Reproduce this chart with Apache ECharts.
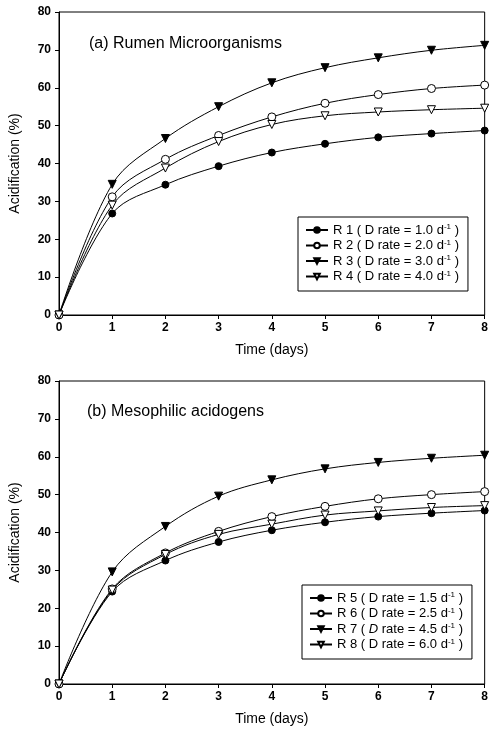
<!DOCTYPE html>
<html>
<head>
<meta charset="utf-8">
<script src="https://cdn.jsdelivr.net/npm/echarts@6/dist/echarts.min.js"></script>
<style>
  html, body { margin: 0; padding: 0; background: #fff; }
  #chart { width: 491px; height: 730px; }
</style>
</head>
<body>
<div id="chart"></div>
<script>
// time axis (days)
var days = [0, 1, 2, 3, 4, 5, 6, 7, 8];

// (a) Rumen Microorganisms
var r1 = [0, 26.8, 34.4, 39.3, 42.9, 45.2, 46.9, 47.9, 48.7];
var r2 = [0, 31.2, 41.1, 47.4, 52.3, 55.9, 58.2, 59.8, 60.7];
var r3 = [0, 34.5, 46.6, 55.0, 61.3, 65.3, 67.9, 69.9, 71.2];
var r4 = [0, 29.0, 38.8, 45.8, 50.3, 52.6, 53.6, 54.2, 54.6];
var ratesA = ['1.0', '2.0', '3.0', '4.0'];

// (b) Mesophilic acidogens
var r5 = [0, 24.4, 32.6, 37.5, 40.6, 42.7, 44.2, 45.1, 45.8];
var r6 = [0, 25.1, 34.6, 40.3, 44.2, 46.9, 48.9, 50.0, 50.8];
var r7 = [0, 29.6, 41.6, 49.6, 53.9, 56.8, 58.5, 59.6, 60.4];
var r8 = [0, 24.8, 34.2, 39.5, 42.2, 44.6, 45.7, 46.6, 47.1];
var ratesB = ['1.5', '2.5', '4.5', '6.0'];

var panelTitles = ['(a) Rumen Microorganisms', '(b) Mesophilic acidogens'];

var font = 'Liberation Sans, Arial, sans-serif';

function pairs(vals) {
  return days.map(function (d, i) { return [d, vals[i]]; });
}

// marker styles: filled circle, open circle, filled down triangle, open down triangle
var marks = [
  { symbol: 'circle', size: 7, fill: '#000', rotate: 0 },
  { symbol: 'circle', size: 8, fill: '#fff', rotate: 0 },
  { symbol: 'triangle', size: 8, fill: '#000', rotate: 180 },
  { symbol: 'triangle', size: 8, fill: '#fff', rotate: 180 }
];

function makeSeries(name, vals, k, panel) {
  var m = marks[k];
  return {
    name: name,
    type: 'line',
    xAxisIndex: panel,
    yAxisIndex: panel,
    data: pairs(vals),
    smooth: 0.35,
    symbol: m.symbol,
    symbolSize: m.size,
    symbolRotate: m.rotate,
    showAllSymbol: true,
    lineStyle: { color: '#000', width: 1 },
    itemStyle: { color: m.fill, borderColor: '#000', borderWidth: 1 },
    emphasis: { disabled: true },
    z: 3
  };
}

var namesA = ['R 1', 'R 2', 'R 3', 'R 4'];
var namesB = ['R 5', 'R 6', 'R 7', 'R 8'];
var rateOf = {};
namesA.forEach(function (n, i) { rateOf[n] = ratesA[i]; });
namesB.forEach(function (n, i) { rateOf[n] = ratesB[i]; });

var series = [
  makeSeries('R 1', r1, 0, 0),
  makeSeries('R 2', r2, 1, 0),
  makeSeries('R 3', r3, 2, 0),
  makeSeries('R 4', r4, 3, 0),
  makeSeries('R 5', r5, 0, 1),
  makeSeries('R 6', r6, 1, 1),
  makeSeries('R 7', r7, 2, 1),
  makeSeries('R 8', r8, 3, 1)
];

function xAxisFor(i) {
  return {
    type: 'value',
    gridIndex: i,
    min: 0,
    max: 8,
    interval: 1,
    name: 'Time (days)',
    nameLocation: 'middle',
    nameGap: 28,
    nameTextStyle: { color: '#000', fontSize: 14, fontFamily: font },
    axisLine: { lineStyle: { color: '#000', width: 1 } },
    axisTick: { length: 4, lineStyle: { color: '#000' } },
    axisLabel: { color: '#000', fontSize: 12, fontWeight: 'bold', fontFamily: font, margin: 7 },
    splitLine: { show: false }
  };
}

function yAxisFor(i) {
  return {
    type: 'value',
    gridIndex: i,
    min: 0,
    max: 80,
    interval: 10,
    name: 'Acidification (%)',
    nameLocation: 'middle',
    nameGap: 37,
    nameTextStyle: { color: '#000', fontSize: 14, fontFamily: font },
    axisLine: { show: true, lineStyle: { color: '#000', width: 1 } },
    axisTick: { length: 4, lineStyle: { color: '#000' } },
    axisLabel: { color: '#000', fontSize: 12, fontWeight: 'bold', fontFamily: font, margin: 8 },
    splitLine: { show: false }
  };
}

function legendFor(names, left, top) {
  return {
    data: names,
    orient: 'vertical',
    left: left,
    top: top,
    padding: [6, 9, 8, 7],
    itemGap: 2,
    itemWidth: 22,
    itemHeight: 7,
    selectedMode: false,
    borderColor: '#000',
    borderWidth: 1,
    backgroundColor: '#fff',
    textStyle: {
      color: '#000',
      fontSize: 13,
      fontFamily: font,
      lineHeight: 12,
      rich: {
        it: { fontSize: 13, fontStyle: 'italic', fontFamily: font, color: '#000' },
        sup: { fontSize: 8, fontFamily: font, color: '#000', padding: [0, 0, 6, 0] }
      }
    },
    formatter: function (name) {
      var d = name === 'R 7' ? '{it|D}' : 'D';
      return name + ' ( ' + d + ' rate = ' + rateOf[name] + ' d{sup|-1} )';
    }
  };
}

var chart = echarts.init(document.getElementById('chart'), null, { renderer: 'canvas' });

var option = {
  animation: false,
  backgroundColor: '#fff',
  title: [
    { text: panelTitles[0], left: 84, top: 31, textStyle: { color: '#000', fontSize: 16, fontWeight: 'normal', fontFamily: font } },
    { text: panelTitles[1], left: 82, top: 399, textStyle: { color: '#000', fontSize: 16, fontWeight: 'normal', fontFamily: font } }
  ],
  grid: [
    { left: 59, right: 2, top: 12, height: 303, show: true, borderColor: '#000', borderWidth: 1, backgroundColor: 'transparent' },
    { left: 59, right: 2, top: 381, height: 303, show: true, borderColor: '#000', borderWidth: 1, backgroundColor: 'transparent' }
  ],
  xAxis: [xAxisFor(0), xAxisFor(1)],
  yAxis: [yAxisFor(0), yAxisFor(1)],
  legend: [legendFor(namesA, 298, 217), legendFor(namesB, 302, 585)],
  series: series
};

chart.setOption(option);
</script>
</body>
</html>
